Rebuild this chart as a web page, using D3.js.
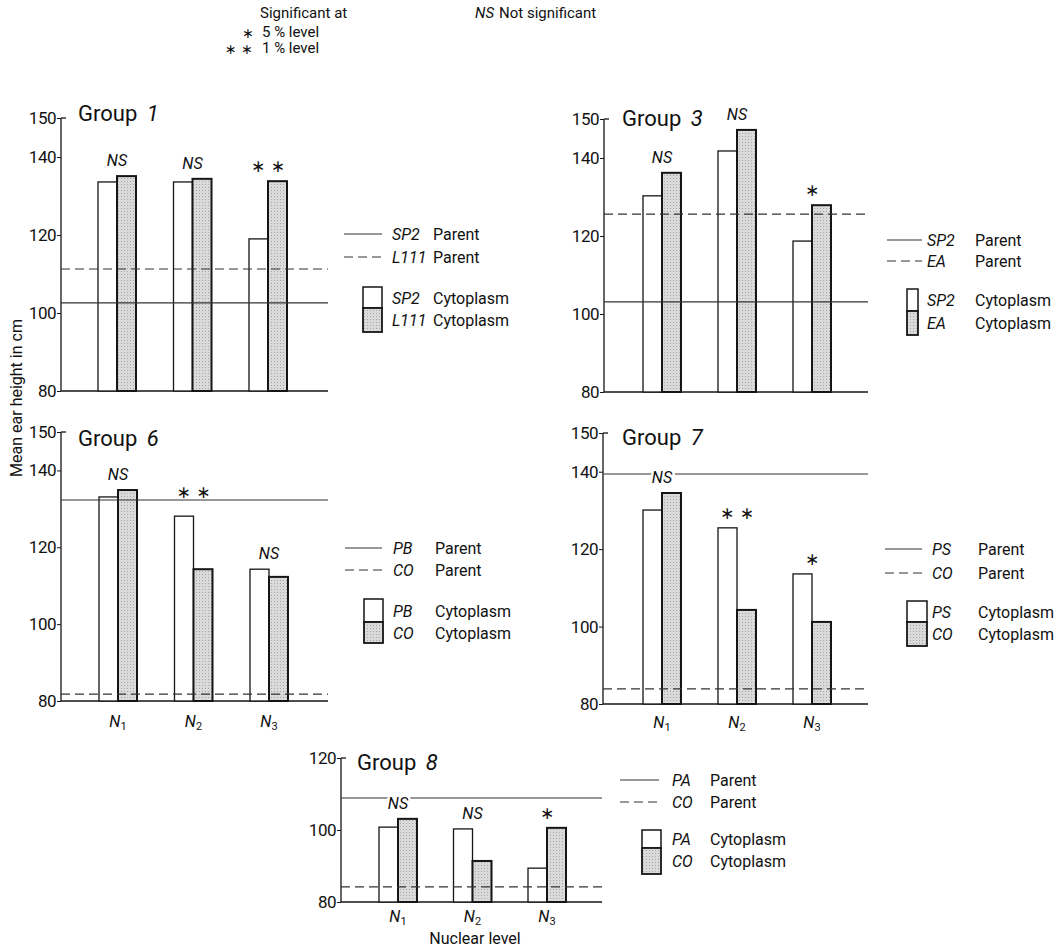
<!DOCTYPE html>
<html><head><meta charset="utf-8">
<script src="https://cdn.jsdelivr.net/npm/d3@7"></script>
<style>
body{margin:0;background:#fff}
text{font-family:Roboto,'Liberation Sans',sans-serif;fill:#111}
</style>
</head><body>
<svg id="c" width="1054" height="947"></svg>
<script>
// ---------- data ----------
const levels = ["N1", "N2", "N3"];
const groupNames = ["1", "3", "6", "7", "8"];
const parentA = ["SP2", "SP2", "PB", "PS", "PA"];
const parentB = ["L111", "EA", "CO", "CO", "CO"];
const cytoA = [
  [133.6, 133.6, 119.0],
  [130.3, 141.8, 118.7],
  [133.1, 128.1, 114.3],
  [130.1, 125.5, 113.6],
  [100.8, 100.3, 89.4]
];
const cytoB = [
  [135.1, 134.4, 133.8],
  [136.2, 147.2, 127.9],
  [134.9, 114.3, 112.3],
  [134.5, 104.3, 101.2],
  [103.1, 91.4, 100.6]
];
const parentALine = [102.6, 103.1, 132.3, 139.4, 108.9];
const parentBLine = [111.3, 125.6, 81.8, 83.9, 84.2];
const signif = [
  ["NS", "NS", "**"],
  ["NS", "NS", "*"],
  ["NS", "**", "NS"],
  ["NS", "**", "*"],
  ["NS", "NS", "*"]
];
const yTicksMain = [80, 100, 120, 140, 150];
const yTicksG8 = [80, 100, 120];
const yDomains = [[80, 150], [80, 150], [80, 150], [80, 150], [80, 120]];

// ---------- layout ----------
const layout = [
  {ax:61,  yb:391, yt:118, xe:328, c:[117,268], tx:78,  ty:121, nl:0,
   lx:[344,382], ly:[234,257], box:[363,382,287,308,332], tn:392, tl:433},
  {ax:604, yb:392, yt:119, xe:868, c:[662,812], tx:622, ty:126, nl:0,
   lx:[887,922], ly:[240,261], box:[907,918,289,311,335], tn:927, tl:975},
  {ax:61,  yb:701, yt:432, xe:328, c:[118,269], tx:78,  ty:446, nl:26,
   lx:[345,382], ly:[548,570], box:[364,383,599,622,643], tn:393, tl:435},
  {ax:603, yb:704, yt:433, xe:868, c:[662,812], tx:622, ty:445, nl:24,
   lx:[885,922], ly:[549,573], box:[907,927,601,622,646], tn:932, tl:978},
  {ax:341, yb:902, yt:758, xe:602, c:[398,547], tx:357, ty:770, nl:20,
   lx:[620,659], ly:[780,802], box:[642,661,830,848,874], tn:672, tl:710}
];
const BW = 19;

const svg = d3.select("#c");
const defs = svg.append("defs");
const pat = defs.append("pattern").attr("id","stip").attr("patternUnits","userSpaceOnUse")
  .attr("width",3).attr("height",3);
pat.append("rect").attr("width",3).attr("height",3).attr("fill","#dadada");
pat.append("rect").attr("x",1).attr("y",1).attr("width",1).attr("height",1).attr("fill","#a6a6a6");

const ink = "#151515";

function nLabel(sel, lv, x, y) {
  const t = sel.append("text").attr("x", x).attr("y", y).attr("text-anchor","middle")
    .style("font-size","16px");
  t.append("tspan").text(lv[0]).style("font-style","italic");
  t.append("tspan").text(lv.slice(1)).style("font-size","11px").attr("dy", 3);
}

groupNames.forEach((gname, gi) => {
  const L = layout[gi];
  const g = svg.append("g");
  const y = d3.scaleLinear().domain(yDomains[gi]).range([L.yb, L.yt]);
  const x = d3.scalePoint().domain(levels).range(L.c);

  // y axis
  const ticks = gi === 4 ? yTicksG8 : yTicksMain;
  const axis = g.append("g").attr("transform", `translate(${L.ax},0)`)
    .call(d3.axisLeft(y).tickValues(ticks).tickSize(4).tickPadding(1).tickFormat(d3.format("d")));
  axis.select(".domain").remove();
  axis.selectAll(".tick line").attr("stroke", ink).attr("stroke-width", 1);
  axis.selectAll(".tick text").style("font-size","17px").attr("fill", ink)
    .style("font-family","Roboto,sans-serif").style("letter-spacing","-0.5px");
  g.append("line").attr("x1", L.ax).attr("x2", L.ax).attr("y1", y(yDomains[gi][0]))
    .attr("y2", y(yDomains[gi][1])).attr("stroke", ink).attr("stroke-width", 1.3);
  g.append("line").attr("x1", L.ax).attr("x2", L.ax + 5).attr("y1", y(yDomains[gi][1]))
    .attr("y2", y(yDomains[gi][1])).attr("stroke", ink).attr("stroke-width", 1.3);

  // baseline
  g.append("line").attr("x1", L.ax).attr("x2", L.xe).attr("y1", y(yDomains[gi][0]))
    .attr("y2", y(yDomains[gi][0])).attr("stroke", ink).attr("stroke-width", 1.5);

  // bars
  levels.forEach((lv, i) => {
    const cx = x(lv);
    g.append("rect").attr("x", cx - BW).attr("width", BW)
      .attr("y", y(cytoA[gi][i])).attr("height", y(yDomains[gi][0]) - y(cytoA[gi][i]))
      .attr("fill", "#fff").attr("stroke", ink).attr("stroke-width", 1.3);
  });
  levels.forEach((lv, i) => {
    const cx = x(lv);
    g.append("rect").attr("x", cx).attr("width", BW)
      .attr("y", y(cytoB[gi][i])).attr("height", y(yDomains[gi][0]) - y(cytoB[gi][i]))
      .attr("fill", "url(#stip)").attr("stroke", ink).attr("stroke-width", 2);
  });

  // parent lines
  g.append("line").attr("x1", L.ax).attr("x2", L.xe)
    .attr("y1", y(parentALine[gi])).attr("y2", y(parentALine[gi]))
    .attr("stroke", "#333").attr("stroke-width", 1.1);
  g.append("line").attr("x1", L.ax).attr("x2", L.xe)
    .attr("y1", y(parentBLine[gi])).attr("y2", y(parentBLine[gi]))
    .attr("stroke", "#333").attr("stroke-width", 1.1).attr("stroke-dasharray", "9,5");

  // significance labels
  levels.forEach((lv, i) => {
    const top = y(Math.max(cytoA[gi][i], cytoB[gi][i]));
    let cy = top - 16;
    const lineY = y(parentALine[gi]);
    if (signif[gi][i] !== "NS" && Math.abs(cy - lineY) < 10) cy = lineY - 9;
    const s = signif[gi][i];
    if (s === "NS") {
      g.append("text").attr("x", x(lv)).attr("y", cy + 6).attr("text-anchor","middle")
        .style("font-size","16px").style("font-style","italic").text("NS")
        .attr("stroke","#fff").attr("stroke-width",5).attr("paint-order","stroke");
    } else {
      g.append("text").attr("x", x(lv)).attr("y", cy + 7).attr("text-anchor","middle")
        .style("font-size","17px").style("font-family","'DejaVu Sans',sans-serif")
        .text(s === "**" ? "\u2217 \u2217" : "\u2217");
    }
  });

  // title
  const t = g.append("text").attr("x", L.tx).attr("y", L.ty).style("font-size","22px");
  t.append("tspan").text("Group ");
  t.append("tspan").text(gname).style("font-style","italic").attr("dx", 4);

  // nuclear level labels
  if (L.nl) levels.forEach(lv => nLabel(g, lv, x(lv), y(yDomains[gi][0]) + L.nl));

  // legend
  g.append("line").attr("x1", L.lx[0]).attr("x2", L.lx[1]).attr("y1", L.ly[0]).attr("y2", L.ly[0])
    .attr("stroke", "#333").attr("stroke-width", 1.1);
  g.append("line").attr("x1", L.lx[0]).attr("x2", L.lx[1]).attr("y1", L.ly[1]).attr("y2", L.ly[1])
    .attr("stroke", "#333").attr("stroke-width", 1.1).attr("stroke-dasharray", "9,5");
  const b = L.box;
  g.append("rect").attr("x", b[0]).attr("y", b[2]).attr("width", b[1]-b[0]).attr("height", b[3]-b[2])
    .attr("fill","#fff").attr("stroke", ink).attr("stroke-width", 1.5);
  g.append("rect").attr("x", b[0]).attr("y", b[3]).attr("width", b[1]-b[0]).attr("height", b[4]-b[3])
    .attr("fill","url(#stip)").attr("stroke", ink).attr("stroke-width", 1.8);
  const rows = [
    [parentA[gi], "Parent", L.ly[0]],
    [parentB[gi], "Parent", L.ly[1]],
    [parentA[gi], "Cytoplasm", (b[2]+b[3])/2],
    [parentB[gi], "Cytoplasm", (b[3]+b[4])/2]
  ];
  rows.forEach(r => {
    g.append("text").attr("x", L.tn).attr("y", r[2] + 6).style("font-size","16px")
      .style("font-style","italic").text(r[0]);
    g.append("text").attr("x", L.tl).attr("y", r[2] + 6).style("font-size","16px").text(r[1]);
  });
});

// axis titles
svg.append("text").attr("transform","translate(22,398) rotate(-90)").attr("text-anchor","middle")
  .style("font-size","16px").text("Mean ear height in cm");
svg.append("text").attr("x", 475).attr("y", 944).attr("text-anchor","middle")
  .style("font-size","16px").text("Nuclear level");

// significance key
svg.append("text").attr("x", 260).attr("y", 18).style("font-size","15px").text("Significant at");
svg.append("text").attr("x", 248).attr("y", 38).attr("text-anchor","middle")
  .style("font-size","14px").style("font-family","'DejaVu Sans',sans-serif").text("\u2217");
svg.append("text").attr("x", 262).attr("y", 37).style("font-size","15px").text("5 % level");
svg.append("text").attr("x", 239).attr("y", 54).attr("text-anchor","middle")
  .style("font-size","14px").style("font-family","'DejaVu Sans',sans-serif").text("\u2217 \u2217");
svg.append("text").attr("x", 262).attr("y", 53).style("font-size","15px").text("1 % level");
svg.append("text").attr("x", 475).attr("y", 18).style("font-size","15px").style("font-style","italic").text("NS");
svg.append("text").attr("x", 499).attr("y", 18).style("font-size","15px").text("Not significant");
</script>
</body></html>
